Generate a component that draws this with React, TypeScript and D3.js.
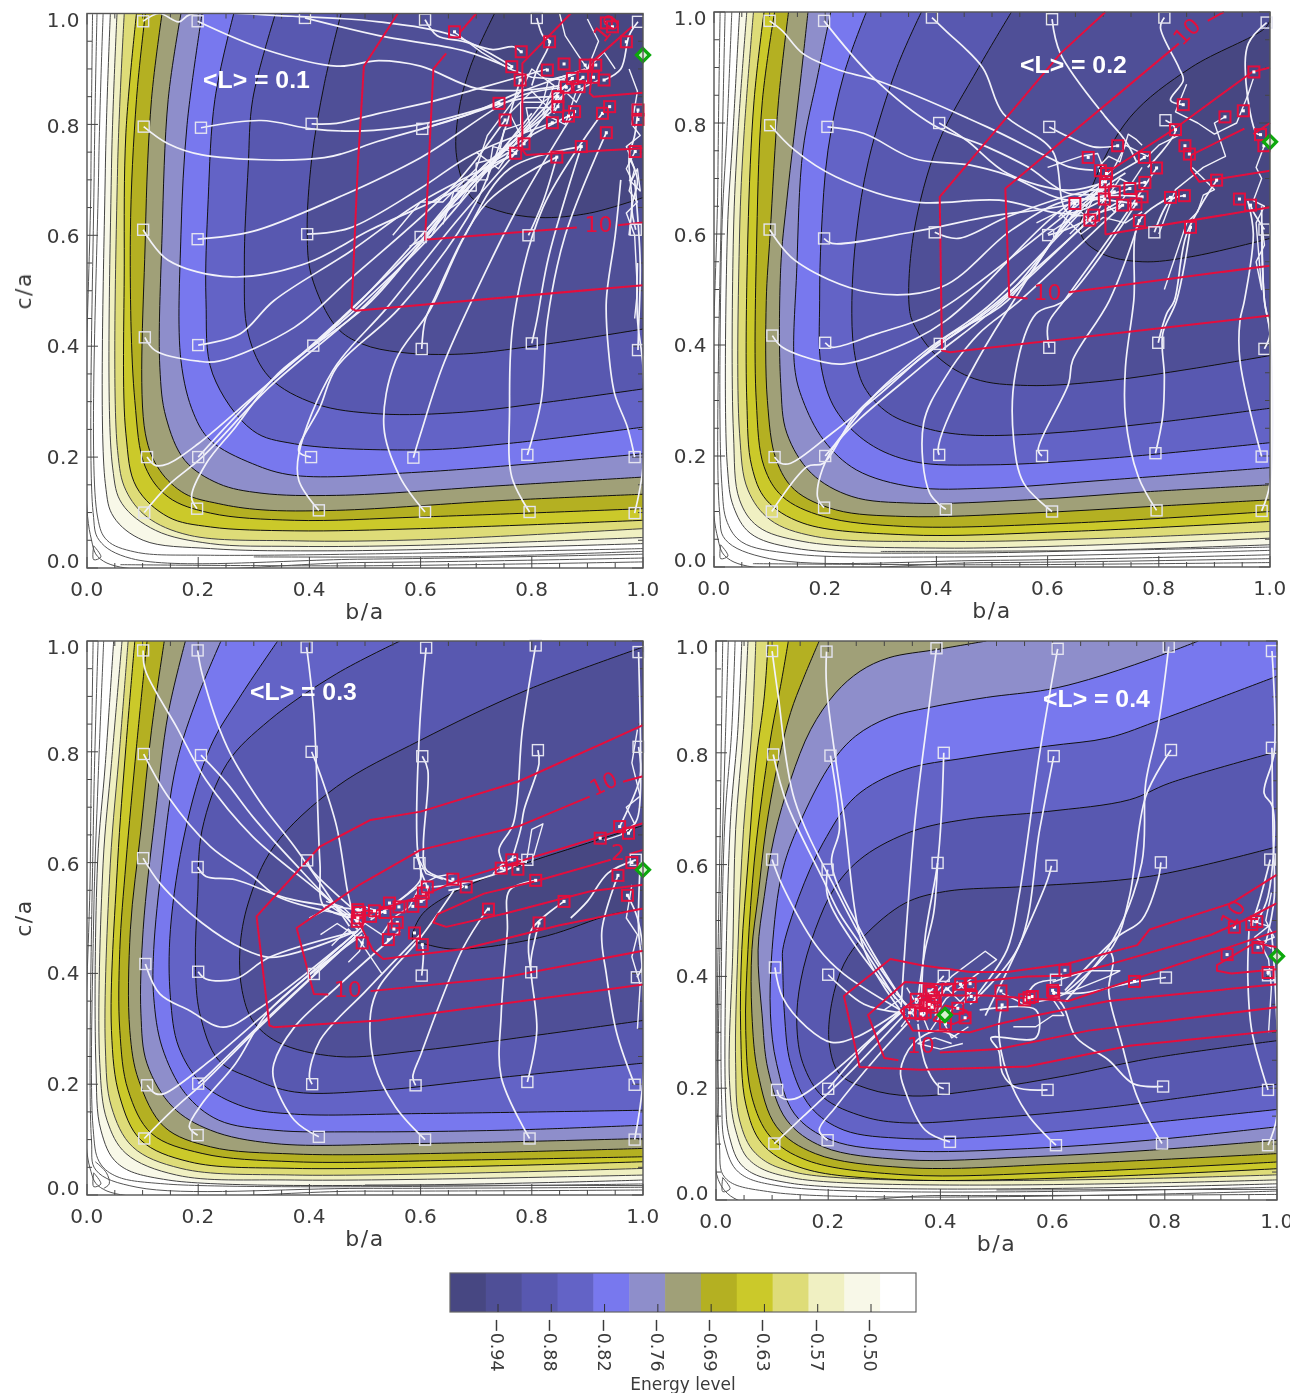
import React from "react";
import * as d3 from "d3";

type Flat = number[];

const bandColors = ["#474782", "#505097", "#5858b0", "#6464c6", "#7878ee", "#8e8ecb", "#a0a078", "#b4b022", "#cbc92a", "#dedc78", "#f0f0c2", "#f8f8e8", "#ffffff"];
const barTicks = ["−0.94", "−0.88", "−0.82", "−0.76", "−0.69", "−0.63", "−0.57", "−0.50"];
const axisTicks = [0, 0.2, 0.4, 0.6, 0.8, 1.0];
const minorTicks = d3.range(0, 21).map((i) => i * 0.05);
const yLabelShift = [-7, 0, 0, 1, 2, 6];

// ---- iso-energy lines, darkest band first; index is the band index (null = absent)
const isoP1: (Flat | null)[] = [
  [.733,1,.69,.905,.668,.82,.665,.74,.69,.67,.737,.645,.813,.632,.904,.64,1,.668],
  [.457,1,.427,.874,.404,.736,.396,.604,.404,.526,.449,.434,.495,.404,.563,.389,.677,.386,.828,.404,1,.431],
  [.339,1,.298,.845,.29,.725,.283,.545,.29,.422,.328,.344,.411,.296,.525,.278,.677,.281,.828,.299,1,.323],
  [.264,1,.23,.845,.218,.665,.214,.484,.226,.35,.298,.248,.373,.224,.6,.213,.752,.224,1,.254],
  [.207,1,.18,.8,.169,.602,.169,.374,.192,.278,.222,.23,.298,.188,.373,.167,.6,.173,1,.206],
  [.169,1,.146,.845,.135,.6,.131,.362,.142,.272,.176,.194,.237,.152,.313,.135,.449,.131,.752,.149,1,.164],
  [.135,1,.116,.845,.105,.6,.105,.242,.131,.176,.176,.134,.237,.116,.313,.105,.449,.104,.752,.122,1,.133],
  [.105,1,.089,.845,.078,.6,.086,.302,.105,.182,.146,.128,.222,.099,.373,.086,.6,.092,1,.107],
  [.089,1,.07,.785,.067,.545,.07,.242,.089,.146,.146,.092,.222,.074,.373,.067,.6,.071,1,.086],
  [.067,1,.055,.72,.055,.212,.07,.14,.108,.092,.184,.059,.373,.049,.6,.051,1,.071],
  [.054,1,.044,.72,.046,.182,.063,.116,.123,.068,.222,.044,.373,.039,.6,.041,1,.055],
  [.042,1,.033,.72,.033,.152,.048,.092,.101,.05,.222,.035,.449,.031,1,.044],
];
const isoP2: (Flat | null)[] = [
  [1,.985,.99,.97,.858,.9,.748,.81,.682,.69,.66,.6,.697,.565,.77,.55,.858,.559,1,.592],
  [.535,1,.476,.9,.403,.763,.359,.6,.351,.47,.359,.438,.403,.378,.469,.339,.564,.327,.711,.336,.858,.357,1,.381],
  [.373,1,.329,.9,.278,.733,.256,.6,.248,.48,.252,.39,.27,.325,.314,.277,.381,.25,.454,.238,.601,.241,.785,.259,1,.286],
  [.274,1,.234,.889,.205,.751,.193,.6,.19,.48,.193,.36,.219,.283,.278,.223,.359,.19,.491,.184,.711,.196,1,.224],
  [.21,1,.186,.883,.16,.751,.149,.54,.145,.36,.16,.3,.197,.229,.256,.175,.359,.144,.491,.142,.711,.157,1,.179],
  [.169,1,.157,.889,.131,.661,.12,.54,.12,.33,.131,.241,.175,.169,.248,.127,.359,.115,.564,.121,.785,.136,1,.148],
  [.134,1,.116,.84,.101,.6,.094,.48,.096,.3,.112,.193,.145,.139,.219,.103,.344,.091,.564,.097,.785,.109,1,.121],
  [.109,1,.087,.84,.077,.6,.076,.3,.09,.181,.123,.127,.197,.091,.344,.073,.638,.079,1,.1],
  [.09,1,.072,.84,.061,.6,.059,.3,.068,.181,.094,.121,.16,.079,.344,.058,.638,.064,1,.082],
  [.071,1,.054,.78,.046,.6,.046,.241,.061,.139,.101,.085,.182,.055,.417,.046,.711,.052,1,.064],
  [.059,1,.043,.78,.035,.6,.035,.241,.046,.121,.079,.073,.16,.046,.417,.034,1,.052],
  [.046,1,.034,.78,.024,.6,.024,.181,.035,.109,.065,.061,.145,.034,.417,.025,1,.04],
];
const isoP3: (Flat | null)[] = [
  [1,.667,.9,.635,.75,.585,.646,.539,.6,.503,.586,.46,.608,.453,.654,.444,.714,.447,.828,.468,.942,.506,1,.517],
  [1,.989,.79,.911,.6,.821,.449,.737,.336,.629,.29,.527,.275,.443,.279,.369,.298,.315,.343,.276,.449,.25,.6,.261,.828,.291,1,.315],
  [.563,1,.449,.941,.328,.857,.252,.779,.207,.659,.199,.539,.195,.417,.203,.327,.237,.243,.298,.21,.373,.186,.525,.189,.752,.213,1,.238],
  [.343,1,.275,.899,.222,.809,.177,.659,.15,.479,.15,.357,.165,.267,.207,.201,.283,.159,.373,.146,.6,.147,1,.153],
  [.241,1,.199,.899,.161,.779,.135,.599,.12,.443,.12,.357,.135,.267,.177,.183,.237,.135,.336,.117,.487,.114,.752,.117,1,.126],
  [.177,1,.146,.869,.123,.689,.101,.479,.097,.327,.108,.237,.154,.159,.222,.117,.336,.093,.6,.093,1,.102],
  [.139,1,.116,.839,.097,.659,.078,.479,.077,.297,.093,.207,.139,.123,.222,.087,.373,.074,.677,.076,1,.084],
  [.108,1,.089,.809,.07,.599,.059,.443,.059,.297,.074,.189,.116,.111,.207,.075,.373,.06,.677,.063,1,.069],
  [.086,1,.07,.809,.055,.599,.044,.297,.059,.177,.097,.099,.184,.06,.373,.048,1,.06],
  [.074,1,.059,.809,.042,.599,.033,.267,.044,.159,.082,.087,.169,.048,.373,.036,1,.048],
  [.063,1,.044,.779,.029,.599,.023,.237,.036,.135,.07,.075,.161,.036,.373,.027,1,.036],
  [.048,1,.033,.779,.019,.6,.016,.237,.025,.117,.055,.057,.146,.027,1,.027],
];
const isoP4: (Flat | null)[] = [
  null,
  [1,.632,.773,.579,.555,.561,.409,.552,.337,.531,.264,.472,.228,.422,.206,.351,.202,.279,.22,.226,.271,.199,.351,.186,.482,.199,.627,.223,.773,.253,1,.285],
  [1,.802,.809,.746,.737,.716,.591,.695,.446,.681,.351,.66,.264,.615,.213,.561,.177,.484,.151,.392,.144,.315,.155,.244,.191,.184,.264,.149,.337,.138,.482,.146,.7,.166,1,.207],
  [1,.937,.795,.86,.7,.827,.591,.812,.446,.791,.337,.77,.249,.722,.191,.639,.148,.543,.119,.448,.119,.422,.122,.333,.133,.244,.169,.166,.228,.125,.337,.11,.482,.113,.7,.131,1,.162],
  [.86,1,.773,.967,.664,.931,.591,.913,.482,.899,.38,.881,.308,.863,.249,.83,.206,.782,.155,.687,.119,.591,.1,.448,.097,.333,.108,.244,.14,.154,.206,.107,.337,.088,.555,.092,.773,.107,1,.131],
  [.482,1,.395,.985,.308,.97,.257,.946,.213,.907,.169,.842,.133,.752,.104,.651,.086,.543,.075,.447,.082,.333,.093,.232,.126,.143,.191,.095,.337,.072,.555,.077,.773,.089,1,.107],
  [.184,1,.155,.931,.133,.872,.108,.77,.089,.663,.075,.543,.064,.448,.064,.333,.075,.226,.108,.131,.177,.083,.337,.058,.627,.065,1,.083],
  [.129,1,.115,.919,.1,.842,.082,.722,.068,.603,.057,.448,.053,.303,.064,.184,.097,.113,.162,.071,.337,.045,.627,.05,1,.068],
  [.093,1,.086,.9,.071,.782,.057,.603,.046,.448,.044,.303,.053,.172,.082,.101,.148,.059,.337,.036,1,.056],
  [.071,1,.064,.842,.049,.663,.039,.448,.035,.244,.042,.143,.071,.083,.148,.048,1,.045],
  [.057,1,.049,.842,.035,.663,.03,.448,.024,.214,.035,.125,.06,.071,.14,.039,1,.036],
  [.046,1,.039,.842,.025,.663,.017,.184,.024,.113,.049,.059,.133,.03,1,.029],
];
// thin lines inside the white outer band
const faintP1: Flat[] = [[.029,1,.021,.72,.019,.092,.036,.05,.086,.029,.222,.023,1,.035],[.018,1,.013,.72,.011,.1,.022,.05,.08,.017,.5,.016,1,.025],[.01,1,.007,.7,.006,.06,.03,.012,.5,.01,1,.018],[.06,.006,.5,.004,1,.011],[.3,.02,.7,.021,1,.03],[.012,.04,.025,.02,.012,.015,.012,.04]];
const faintP2: Flat[] = [[.032,1,.023,.78,.014,.6,.014,.15,.024,.08,.05,.045,.14,.024,.417,.018,1,.03],[.02,1,.014,.7,.01,.1,.02,.05,.1,.015,.5,.012,1,.022],[.011,1,.007,.7,.005,.06,.03,.012,.5,.008,1,.015],[.07,.006,.5,.004,1,.008],[.3,.028,.7,.03,1,.036],[.012,.04,.025,.02,.012,.015,.012,.04]];
const faintP3: Flat[] = [[.03,1,.02,.75,.012,.5,.011,.12,.022,.06,.05,.035,.14,.02,1,.02],[.02,1,.012,.7,.008,.1,.016,.045,.09,.014,.5,.012,1,.014],[.011,1,.006,.6,.005,.05,.03,.01,.5,.007,1,.009],[.5,.018,1,.017],[.012,.04,.025,.02,.012,.015,.012,.04],[.015,.06,.035,.04,.04,.02,.03,.012]];
const faintP4: Flat[] = [[.034,1,.028,.84,.015,.66,.01,.18,.016,.1,.04,.05,.12,.024,1,.023],[.022,1,.016,.8,.008,.5,.006,.1,.016,.04,.1,.014,1,.016],[.012,1,.008,.7,.004,.2,.02,.012,.4,.008,1,.01],[.5,.018,1,.019],[.012,.04,.025,.02,.012,.015,.012,.04]];

// ---- relaxation tracks (first point is the start square)
const tracksP1: Flat[] = [
  [.101,.986,.13,1,.165,.985,.185,.998,.37,.995,.525,.985,.66,.96,.764,.905],
  [.199,.986,.32,.935,.449,.905,.525,.915,.6,.905,.7,.865,.79,.862,.85,.87],
  [.392,.992,.525,.96,.677,.933,.764,.9],
  [.608,.989,.63,.96,.675,.95,.73,.935,.767,.94,.781,.93],
  [.809,.992,.82,.96,.832,.95,.81,.9,.8,.87],
  [.991,.985,.975,.96,.96,.9,.93,.88],
  [.102,.796,.146,.765,.207,.745,.427,.74,.525,.77,.677,.815,.783,.86,.896,.9],
  [.205,.794,.313,.807,.404,.792,.487,.788,.6,.8,.741,.838],
  [.404,.801,.449,.802,.525,.82,.623,.842,.705,.865,.828,.9],
  [.603,.792,.677,.815,.775,.845,.847,.85],
  [.991,.826,.985,.78,.975,.74,.98,.66,.975,.6],
  [.101,.61,.146,.555,.26,.525,.396,.55,.51,.61,.661,.68,.752,.737,.771,.748],
  [.199,.593,.298,.607,.449,.667,.6,.74,.775,.85,.862,.867],
  [.396,.602,.472,.613,.6,.685,.692,.745,.837,.803],
  [.6,.597,.653,.66,.714,.725,.847,.832],
  [.794,.6,.82,.66,.845,.741],
  [.987,.61,.98,.65,.99,.7,.975,.74],
  [.108,.2,.123,.185,.146,.188,.2,.224,.298,.308,.472,.464,.6,.59,.7,.71,.786,.765],
  [.2,.2,.313,.32,.487,.47,.62,.6,.74,.74,.873,.883],
  [.103,.1,.146,.149,.207,.2,.328,.326,.502,.476,.63,.62,.72,.73,.866,.815],
  [.198,.107,.188,.128,.214,.188,.267,.254,.343,.35,.51,.48,.66,.66,.8,.8,.892,.885],
  [.403,.2,.381,.21,.419,.29,.449,.362,.563,.47,.7,.66,.779,.88],
  [.417,.104,.381,.158,.381,.206,.442,.356,.54,.47,.66,.62,.78,.76,.847,.85],
  [.587,.199,.6,.242,.639,.362,.692,.482,.78,.66,.877,.823],
  [.608,.101,.563,.164,.534,.254,.555,.374,.616,.464,.68,.6,.76,.72,.889,.76],
  [.792,.204,.817,.302,.828,.446,.86,.6,.934,.785],
  [.796,.101,.764,.164,.76,.284,.767,.446,.82,.65,.927,.82],
  [.985,.2,.972,.254,.949,.314,.938,.392,.934,.482,.95,.6,.96,.7],
  [.985,.099,1,.182,1,.362,.99,.45,.99,.55],
  [.407,.401,.5,.49,.62,.62,.7,.7,.8,.82],
  [.2,.402,.275,.422,.336,.482,.472,.57,.6,.66,.771,.748],
  [.104,.416,.123,.392,.2,.373,.237,.373,.373,.434,.472,.52,.66,.69,.752,.808],
  [.602,.395,.608,.446,.623,.482,.72,.66,.845,.741],
  [.8,.405,.809,.446,.83,.56,.889,.76],
  [.991,.393,.992,.43,.995,.55,.985,.7],
];
const tracksP2: Flat[] = [
  [.1,.984,.123,.966,.16,.925,.226,.895,.292,.877,.491,.793,.594,.742,.638,.721,.682,.715],
  [.198,.984,.285,.883,.395,.796,.491,.757,.564,.721,.638,.673,.72,.676],
  [.392,.99,.417,.966,.483,.9,.52,.817,.608,.751,.638,.637,.735,.652],
  [.608,.987,.623,.925,.704,.811,.73,.781,.745,.76,.76,.73],
  [.81,.99,.803,.972,.836,.9,.844,.877,.821,.841,.844,.833],
  [.994,.981,.961,.943,.957,.871,.976,.781,.983,.779],
  [.101,.796,.145,.751,.219,.703,.359,.658,.513,.661,.638,.637,.702,.663],
  [.204,.793,.27,.781,.359,.736,.461,.724,.528,.706,.638,.661,.748,.682],
  [.405,.8,.454,.769,.528,.709,.638,.679,.704,.694],
  [.603,.793,.638,.775,.682,.757,.726,.759],
  [.812,.805,.83,.788,.78,.72],
  [.1,.608,.145,.553,.278,.495,.41,.505,.535,.607,.638,.661,.76,.654],
  [.198,.592,.212,.583,.359,.604,.491,.631,.645,.655,.72,.69],
  [.397,.603,.439,.592,.528,.631,.653,.673,.775,.693],
  [.601,.598,.638,.61,.733,.661],
  [.792,.603,.821,.661,.846,.669],
  [.99,.608,.97,.64,.965,.652],
  [.109,.198,.12,.187,.138,.187,.212,.241,.3,.313,.417,.414,.528,.48,.649,.655],
  [.2,.2,.219,.223,.292,.313,.381,.39,.491,.468,.66,.64],
  [.104,.1,.168,.181,.197,.187,.256,.277,.359,.366,.5,.47,.676,.625],
  [.198,.107,.186,.127,.212,.211,.373,.361,.51,.47,.683,.634],
  [.405,.202,.403,.211,.417,.259,.52,.45,.68,.66,.77,.667],
  [.417,.104,.388,.133,.377,.259,.417,.343,.476,.42,.55,.48,.7,.62,.735,.652],
  [.59,.2,.583,.211,.638,.331,.645,.372,.711,.48,.765,.624],
  [.608,.1,.557,.151,.539,.229,.542,.349,.579,.456,.63,.48,.759,.654],
  [.794,.205,.807,.271,.81,.343,.807,.42,.832,.48,.857,.612],
  [.796,.102,.763,.163,.74,.271,.74,.36,.755,.48,.765,.624,.821,.666],
  [.985,.199,.946,.372,.946,.444,.954,.48,.97,.6,.96,.66],
  [.985,.101,1,.151,1,.42,.99,.48,.985,.6],
  [.406,.402,.528,.49,.66,.65,.74,.71],
  [.2,.404,.212,.396,.292,.42,.381,.45,.432,.48,.7,.69],
  [.105,.417,.123,.396,.197,.369,.234,.366,.314,.39,.417,.444,.62,.64,.774,.738],
  [.603,.395,.601,.438,.63,.48,.73,.62,.796,.719],
  [.799,.404,.814,.456,.828,.48,.85,.6,.904,.697],
  [.99,.393,1,.42,.99,.48,.985,.65],
];
const tracksP3: Flat[] = [
  [.101,.983,.105,.947,.161,.845,.214,.749,.298,.647,.434,.533,.487,.479],
  [.199,.983,.207,.941,.252,.809,.313,.707,.373,.629,.472,.485],
  [.395,.989,.408,.869,.419,.599,.426,.521,.48,.5],
  [.61,.988,.598,.839,.594,.629,.6,.587,.615,.54,.6,.53],
  [.807,.992,.783,.839,.767,.671,.741,.623,.752,.587,.745,.59],
  [.992,.98,.995,.719,.99,.68,.974,.653],
  [.102,.796,.146,.719,.222,.629,.298,.575,.343,.539,.449,.509,.5,.503],
  [.205,.794,.252,.743,.298,.683,.373,.599,.449,.521,.495,.49],
  [.404,.8,.419,.761,.449,.665,.468,.551,.475,.52],
  [.603,.792,.613,.767,.605,.629,.61,.587,.677,.557,.65,.55],
  [.811,.803,.813,.779,.786,.695,.78,.66,.764,.605],
  [.992,.809,.995,.755,.964,.677,.958,.665],
  [.101,.608,.131,.563,.207,.491,.283,.443,.328,.429,.389,.441,.487,.477],
  [.199,.592,.214,.575,.267,.569,.358,.536,.487,.515,.536,.51],
  [.396,.604,.404,.587,.48,.515],
  [.598,.599,.6,.57,.578,.545,.51,.497],
  [.792,.605,.75,.585,.677,.563,.62,.556],
  [.987,.605,.937,.581,.9,.53,.87,.5],
  [.108,.198,.123,.183,.139,.183,.222,.243,.313,.321,.487,.477],
  [.2,.201,.214,.213,.313,.309,.495,.477],
  [.103,.102,.154,.153,.214,.207,.298,.291,.487,.47],
  [.199,.108,.184,.123,.207,.165,.267,.237,.328,.333,.495,.47],
  [.405,.2,.4,.213,.419,.279,.502,.369,.6,.471],
  [.417,.105,.373,.135,.336,.207,.336,.237,.373,.303,.449,.375,.563,.477],
  [.591,.198,.586,.213,.601,.255,.639,.357,.677,.447,.72,.516],
  [.608,.1,.555,.159,.517,.237,.51,.327,.525,.375,.6,.465,.66,.55],
  [.792,.204,.809,.297,.798,.417,.805,.459,.813,.491],
  [.796,.102,.745,.213,.745,.327,.756,.477,.76,.55,.807,.568],
  [.985,.199,.953,.291,.934,.399,.926,.477,.955,.577],
  [.985,.1,1,.207,.998,.417,.992,.477,.995,.6],
  [.408,.399,.487,.47],
  [.2,.403,.214,.39,.267,.39,.328,.429,.48,.475],
  [.105,.417,.131,.363,.184,.333,.245,.303,.313,.339,.48,.47],
  [.602,.396,.605,.435,.603,.452],
  [.799,.402,.794,.447,.8,.48,.858,.53],
  [.989,.393,1,.417,.99,.5,.972,.541],
];
const tracksP4: Flat[] = [
  [.1,.982,.111,.901,.14,.716,.22,.543,.271,.448,.337,.351],
  [.197,.981,.197,.919,.228,.687,.264,.448,.329,.339],
  [.393,.987,.38,.884,.355,.681,.337,.454,.33,.345],
  [.609,.986,.577,.8,.54,.543,.519,.448,.46,.36],
  [.807,.99,.788,.848,.766,.746,.759,.603,.708,.466,.622,.355],
  [.991,.982,.995,.8,.977,.728,.992,.704,.984,.543,.965,.5],
  [.102,.797,.126,.71,.191,.573,.22,.513,.264,.448,.32,.36],
  [.204,.795,.22,.663,.206,.603,.257,.483,.337,.35],
  [.406,.8,.402,.693,.395,.603,.373,.472,.366,.36],
  [.602,.794,.577,.663,.54,.454,.453,.35],
  [.811,.805,.766,.722,.737,.543,.708,.455,.622,.37],
  [.991,.809,.993,.65,.995,.54,.98,.46],
  [.1,.609,.119,.561,.184,.448,.228,.404,.337,.335],
  [.199,.591,.199,.543,.249,.454,.33,.35],
  [.395,.603,.388,.513,.373,.448,.36,.36],
  [.598,.598,.591,.573,.54,.454,.48,.33],
  [.793,.604,.788,.573,.759,.501,.715,.47,.622,.375],
  [.988,.609,.97,.54,.955,.493],
  [.109,.197,.115,.184,.14,.181,.191,.214,.337,.345],
  [.2,.199,.264,.273,.33,.335],
  [.104,.101,.155,.149,.242,.232,.337,.333],
  [.199,.107,.184,.125,.213,.166,.286,.255,.345,.32],
  [.406,.199,.395,.205,.373,.244,.36,.315],
  [.417,.104,.373,.125,.337,.196,.329,.232,.351,.279,.395,.303,.43,.29],
  [.591,.197,.533,.202,.511,.226,.504,.267,.49,.29,.57,.29,.57,.34,.47,.34],
  [.606,.098,.555,.154,.519,.226,.504,.303,.51,.349],
  [.797,.203,.744,.208,.7,.25,.642,.291,.62,.345,.6,.37],
  [.795,.101,.751,.184,.722,.285,.7,.374,.708,.43,.7,.45],
  [.984,.197,.955,.303,.948,.398,.95,.481],
  [.984,.098,1,.15,.996,.4,.99,.48],
  [.406,.401,.38,.37,.36,.34],
  [.2,.403,.264,.35,.33,.335],
  [.105,.416,.119,.362,.162,.309,.206,.282,.249,.291,.33,.34],
  [.606,.394,.569,.386,.55,.358],
  [.802,.398,.759,.392,.729,.386,.65,.37,.602,.371],
  [.984,.402,.984,.407],
];
// ---- tangled final stretches, no start square
const tangleP1: Flat[] = [
  [.58,.58,.62,.6,.64,.64,.67,.66,.69,.69,.72,.72,.74,.74,.76,.77,.79,.8,.82,.84,.86,.87],
  [.64,.62,.66,.68,.7,.68,.7,.73,.74,.74,.75,.79,.78,.8,.78,.84,.82,.84,.83,.88,.87,.89],
  [.62,.66,.68,.7,.72,.7,.73,.76,.77,.75,.8,.78,.79,.83,.84,.83,.85,.88,.9,.9],
  [.7,.75,.74,.72,.78,.78,.76,.82,.8,.86,.84,.82,.86,.86,.88,.84,.9,.88],
  [.78,.86,.8,.9,.84,.87,.82,.82,.86,.8,.88,.86,.92,.88],
  [.975,.9,.99,.86,.98,.8,.995,.78,.97,.76,.985,.72,.975,.68,.99,.66,.97,.64,.985,.6,.99,.5,.985,.45],
  [.985,.75,.97,.72,.98,.7,.99,.72,.995,.68,.975,.7],
  [.9,.99,.92,.95,.9,.9,.93,.93,.95,.9],
  [.55,.6,.6,.66,.64,.66,.7,.72,.72,.78,.78,.86],
  [.66,.967,.71,.93,.76,.9,.8,.885,.86,.88],
  [.85,1,.86,.96,.88,.93,.9,.9],
];
const tangleP2: Flat[] = [
  [.62,.63,.65,.66,.67,.65,.69,.68,.71,.67,.73,.7,.75,.69,.77,.72],
  [.6,.6,.63,.62,.66,.64,.68,.62,.7,.66,.72,.64,.74,.67],
  [.64,.6,.66,.62,.68,.66,.7,.7,.72,.72,.74,.76,.78,.74,.8,.76,.84,.78],
  [.69,.72,.71,.74,.73,.73,.745,.78,.76,.77,.77,.76],
  [.6,.72,.63,.73,.66,.74,.69,.745,.7,.72],
  [.58,.62,.62,.64,.66,.6,.7,.63,.74,.62,.77,.64],
  [.985,.62,.99,.58,.975,.55,.985,.5,.975,.62,.99,.65,.97,.66,.985,.7,.975,.72,.99,.76],
  [.86,.72,.9,.68,.88,.67,.87,.64,.85,.62,.83,.56,.81,.5],
  [.85,.87,.83,.82,.87,.8,.9,.78,.94,.8,.96,.85,.97,.88],
  [.8,.6,.83,.68,.88,.72,.92,.74,.9,.8,.919,.811],
];
const tangleP3: Flat[] = [
  [.4,.5,.44,.52,.47,.5,.5,.52,.53,.51,.56,.53,.6,.56,.63,.575,.66,.58],
  [.42,.47,.45,.49,.48,.47,.5,.49,.53,.47,.55,.5,.58,.52],
  [.44,.45,.47,.48,.49,.46,.51,.43,.53,.4],
  [.43,.53,.46,.52,.48,.5,.5,.47,.49,.44,.47,.42],
  [.58,.52,.6,.56,.6,.59,.59,.62,.61,.58,.64,.57],
  [.73,.58,.75,.6,.77,.61,.79,.6,.8,.66,.82,.67,.8,.6],
  [.99,.84,.98,.78,.995,.72,.97,.7,.985,.67,.96,.65,.93,.64],
  [.98,.56,.97,.5,.99,.47,.98,.43,.995,.38,.99,.3],
];
const tangleP4: Flat[] = [
  [.3,.34,.33,.36,.36,.32,.38,.36,.4,.32,.43,.35],
  [.32,.37,.35,.34,.37,.37,.39,.34,.41,.38,.44,.35,.46,.38],
  [.33,.31,.36,.35,.38,.3,.4,.33,.42,.29,.45,.31],
  [.34,.38,.37,.33,.4,.37,.43,.39,.45,.37,.42,.34],
  [.42,.28,.39,.29,.36,.28,.4,.27,.44,.28],
  [.51,.37,.55,.35,.6,.36,.65,.38,.7,.4,.72,.41,.66,.41,.6,.39],
  [.53,.31,.57,.31,.6,.33,.62,.33,.6,.36],
  [.99,.55,.98,.5,.995,.47,.97,.46,.985,.43,.99,.38,.985,.3],
  [.97,.52,.95,.5,.985,.49,.96,.47,.99,.45],
  [.37,.35,.42,.4,.48,.445,.5,.43,.46,.4,.41,.36,.39,.33],
];

// ---- relaxed end points
const endsP1: Flat = [.832,.949,.781,.931,.764,.904,.779,.88,.828,.898,.858,.909,.896,.907,.915,.907,.873,.883,.892,.885,.911,.885,.93,.88,.862,.867,.885,.868,.847,.85,.741,.838,.847,.832,.877,.823,.866,.815,.752,.808,.837,.803,.927,.82,.94,.832,.991,.826,.991,.809,.934,.785,.786,.765,.771,.748,.889,.76,.845,.741,.986,.751,.934,.983,.945,.976,.97,.949,.661,.967];
const endsP2: Flat = [.844,.833,.971,.892,.919,.811,.952,.822,.983,.779,.989,.759,.83,.788,.847,.759,.855,.744,.726,.759,.673,.738,.774,.738,.796,.719,.695,.714,.706,.709,.704,.694,.775,.693,.748,.682,.72,.676,.77,.667,.702,.663,.821,.666,.846,.669,.649,.655,.735,.652,.759,.654,.683,.634,.676,.625,.765,.624,.857,.612,.904,.697,.945,.663,.965,.652];
const endsP3: Flat = [.487,.515,.486,.494,.51,.503,.517,.513,.536,.51,.544,.527,.561,.52,.558,.492,.552,.48,.542,.461,.495,.455,.589,.473,.603,.452,.586,.521,.601,.53,.605,.545,.612,.556,.658,.57,.682,.556,.722,.516,.745,.59,.764,.605,.775,.588,.807,.568,.858,.53,.813,.491,.923,.644,.958,.665,.974,.653,.98,.6,.955,.577,.972,.541,.49,.51,.487,.5];
const endsP4: Flat = [.357,.359,.355,.335,.373,.336,.384,.371,.388,.362,.373,.348,.391,.356,.413,.377,.436,.386,.453,.387,.455,.364,.508,.374,.51,.349,.55,.358,.564,.364,.602,.371,.622,.411,.746,.391,.431,.343,.444,.326,.409,.315,.911,.439,.966,.452,.984,.407,.924,.488,.955,.493,.964,.498,.366,.333,.38,.374,.345,.335,.38,.35,.6,.375,.558,.362,.385,.345];

// ---- red iso-lines (straight segments)
const redP1: Flat[] = [
  [.559,1,.498,.905,.487,.724,.476,.468,.483,.464,1,.51],
  [.7,1,.67,.965],[.646,.928,.623,.9,.608,.592,.881,.614],[.955,.618,1,.623],
  [.87,1,.783,.91,.783,.754,.79,.745,1,.757],
  [.98,.976,.911,.915,.904,.856,.911,.85,1,.857],
];
const redP2: Flat[] = [
  [.704,1,.623,.925,.406,.667,.41,.39,.425,.387,.711,.42,1,.453],
  [.836,.943,.524,.682,.531,.487,.564,.484],[.638,.495,1,.543],[.888,.984,.917,1],
  [.704,.599,.704,.709,.829,.79,.968,.892,1,.9],[.704,.599,1,.648],
  [.954,.79,.858,.742,.858,.715,.873,.694,1,.714],[.97,.78,1,.8],
];
const redP3: Flat[] = [
  [1,.848,.775,.746,.6,.692,.51,.677,.419,.629,.305,.503,.328,.306,.336,.303,.525,.315,1,.38],
  [.904,.719,.775,.665,.6,.623,.49,.56,.377,.482,.408,.363,.434,.362],[.51,.368,.752,.393,1,.441],[.964,.746,1,.756],
  [1,.671,.866,.629,.677,.572,.6,.539,.525,.515,.487,.497,.514,.442,.533,.426,.677,.444,.85,.487,1,.517],
  [.942,.605,.805,.566,.714,.544,.631,.507,.623,.492,.646,.484,.752,.508,.904,.548,1,.56],[.975,.615,1,.623],
];
const redP4: Flat[] = [
  [1,.582,.919,.531,.773,.484,.751,.456,.628,.423,.519,.408,.453,.408,.366,.42,.311,.431,.228,.365,.256,.238,.366,.233,.555,.239,.737,.276,1,.303],
  [1,.531,.94,.5,.882,.474,.7,.421,.62,.401,.555,.4,.409,.385,.337,.39,.271,.331,.3,.254,.325,.25],[.399,.264,.504,.27,.664,.303,1,.345],
  [1,.481,.751,.397,.628,.356,.482,.366,.366,.366,.329,.339,.351,.303,.453,.3,.504,.315,.569,.33,.7,.356,1,.386],
  [.387,.321,.409,.348,.446,.339,.453,.327,.424,.315,.387,.321],
  [1,.452,.96,.46,.893,.42,.893,.41,.919,.405,1,.413],
];
const redLabelsP1 = [{ t: "10", b: .92, c: .606, r: 0 }, { t: "10", b: .945, c: .965, r: -50 }];
const redLabelsP2 = [{ t: "10", b: .6, c: .481, r: 0 }, { t: "10", b: .86, c: .955, r: -45 }];
const redLabelsP3 = [{ t: "10", b: .469, c: .357, r: 0 }, { t: "10", b: .935, c: .73, r: -25 }, { t: "2", b: .955, c: .605, r: 0 }];
const redLabelsP4 = [{ t: "10", b: .365, c: .263, r: 0 }, { t: "10", b: .933, c: .505, r: -60 }];

const greensP1: Flat = [1, .925];
const greensP2: Flat = [1, .766];
const greensP3: Flat = [1, .587];
const greensP4: Flat = [1, .436, .408, .331];

const panels = [
  { x0: 87, x1: 643, y0: 568, y1: 13.5, iso: isoP1, faint: faintP1, tracks: tracksP1, tangle: tangleP1, ends: endsP1, red: redP1, redLabels: redLabelsP1, greens: greensP1, title: "<L> = 0.1", tx: 203, ty: 88, yTitle: true },
  { x0: 714, x1: 1270, y0: 567, y1: 12, iso: isoP2, faint: faintP2, tracks: tracksP2, tangle: tangleP2, ends: endsP2, red: redP2, redLabels: redLabelsP2, greens: greensP2, title: "<L> = 0.2", tx: 1020, ty: 73, yTitle: false },
  { x0: 87, x1: 643, y0: 1195, y1: 641, iso: isoP3, faint: faintP3, tracks: tracksP3, tangle: tangleP3, ends: endsP3, red: redP3, redLabels: redLabelsP3, greens: greensP3, title: "<L> = 0.3", tx: 250, ty: 700, yTitle: true },
  { x0: 716, x1: 1277, y0: 1200, y1: 641, iso: isoP4, faint: faintP4, tracks: tracksP4, tangle: tangleP4, ends: endsP4, red: redP4, redLabels: redLabelsP4, greens: greensP4, title: "<L> = 0.4", tx: 1043, ty: 707, yTitle: false },
];

const pairs = (f: Flat): [number, number][] => {
  const out: [number, number][] = [];
  for (let i = 0; i + 1 < f.length; i += 2) out.push([f[i], f[i + 1]]);
  return out;
};

const FONT = "'DejaVu Sans', sans-serif";
const INK = "#3a3a3a";
const RED = "#e4103e";

function Panel({ p, idx }: { p: (typeof panels)[number]; idx: number }) {
  const x = d3.scaleLinear().domain([0, 1]).range([p.x0, p.x1]);
  const y = d3.scaleLinear().domain([0, 1]).range([p.y0, p.y1]);
  const smooth = d3.line<[number, number]>().x((d) => x(d[0])).y((d) => y(d[1])).curve(d3.curveCatmullRom.alpha(0.5));
  const straight = d3.line<[number, number]>().x((d) => x(d[0])).y((d) => y(d[1]));
  const clip = `clip-${idx}`;
  const w = p.x1 - p.x0;
  const h = p.y0 - p.y1;
  const order = p.iso.map((f, i) => ({ f, i })).filter((d) => d.f).reverse();
  return (
    <g>
      <defs>
        <clipPath id={clip}><rect x={p.x0} y={p.y1} width={w} height={h} /></clipPath>
      </defs>
      <g clipPath={`url(#${clip})`}>
        <rect x={p.x0} y={p.y1} width={w} height={h} fill="#fff" />
        {order.map(({ f, i }) => {
          const pts = pairs(f as Flat);
          const corner = pts[0][1] === 1 ? `L${x(1)},${y(1)}` : "";
          return <path key={i} d={`${smooth(pts)}${corner}Z`} fill={bandColors[i]} />;
        })}
        {order.map(({ f, i }) => (
          <path key={i} d={smooth(pairs(f as Flat)) as string} fill="none" stroke={i > 8 ? "#444" : "#111"} strokeWidth={1} />
        ))}
        {p.faint.map((f, i) => (
          <path key={i} d={smooth(pairs(f)) as string} fill="none" stroke="#555" strokeWidth={1} />
        ))}
      </g>
      {minorTicks.map((t, i) => {
        const major = i % 4 === 0;
        const len = major ? 11 : 5;
        return (
          <g key={i} stroke="#444" strokeWidth={1}>
            <line x1={x(t)} x2={x(t)} y1={p.y0} y2={p.y0 - len} />
            <line x1={x(t)} x2={x(t)} y1={p.y1} y2={p.y1 + len} />
            <line x1={p.x0} x2={p.x0 + len} y1={y(t)} y2={y(t)} />
            <line x1={p.x1} x2={p.x1 - len} y1={y(t)} y2={y(t)} />
          </g>
        );
      })}
      <g fill="none" stroke="#f2f2fa" strokeWidth={1.7} strokeLinejoin="round">
        {p.tracks.map((f, i) => <path key={i} d={smooth(pairs(f)) as string} />)}
        {p.tangle.map((f, i) => <path key={i} d={straight(pairs(f)) as string} strokeWidth={1.4} />)}
      </g>
      <g fill="none" stroke={RED} strokeWidth={2} strokeLinejoin="round">
        {p.red.map((f, i) => <path key={i} d={straight(pairs(f)) as string} />)}
      </g>
      <g fill="none" stroke="#e4e4f0" strokeWidth={1.4}>
        {p.tracks.map((f, i) => <rect key={i} x={x(f[0]) - 5.5} y={y(f[1]) - 5.5} width={11} height={11} />)}
      </g>
      <g>
        {pairs(p.ends).map((d, i) => (
          <g key={i}>
            <rect x={x(d[0]) - 5.5} y={y(d[1]) - 5.5} width={11} height={11} fill="none" stroke={RED} strokeWidth={2} />
            <rect x={x(d[0]) - 1.5} y={y(d[1]) - 1.5} width={3} height={3} fill="#fff" />
          </g>
        ))}
      </g>
      {p.redLabels.map((l, i) => (
        <text key={i} transform={`translate(${x(l.b)},${y(l.c)}) rotate(${l.r})`} textAnchor="middle" fontFamily={FONT} fontSize={22} fill={RED}>{l.t}</text>
      ))}
      {pairs(p.greens).map((d, i) => (
        <polygon key={i} points={`${x(d[0])},${y(d[1]) - 6.5} ${x(d[0]) + 6.5},${y(d[1])} ${x(d[0])},${y(d[1]) + 6.5} ${x(d[0]) - 6.5},${y(d[1])}`} fill="#d8f0d0" stroke="#08a808" strokeWidth={3.2} />
      ))}
      <rect x={p.x0} y={p.y1} width={w} height={h} fill="none" stroke="#555" strokeWidth={1.4} />
      <text x={p.tx} y={p.ty} fontFamily="'Liberation Sans', Arial, sans-serif" fontWeight={700} fontSize={24.8} fill="#fff">{p.title}</text>
      <g fontFamily={FONT} fontSize={20} fill={INK}>
        {axisTicks.map((t, i) => (
          <text key={i} x={x(t)} y={p.y0 + 28} textAnchor="middle" letterSpacing={0.5}>{t.toFixed(1)}</text>
        ))}
        {axisTicks.map((t, i) => (
          <text key={i} x={p.x0 - 7} y={y(t) + 7 + yLabelShift[i]} textAnchor="end" letterSpacing={0.5}>{t.toFixed(1)}</text>
        ))}
        <text x={(p.x0 + p.x1) / 2} y={p.y0 + 51} textAnchor="middle" fontSize={22} letterSpacing={1.5}>b/a</text>
        {p.yTitle && (
          <text transform={`translate(${p.x0 - 56},${(p.y0 + p.y1) / 2}) rotate(-90)`} textAnchor="middle" fontSize={22} letterSpacing={1.5}>c/a</text>
        )}
      </g>
    </g>
  );
}

function ColorBar() {
  const bx = d3.scaleBand<number>().domain(d3.range(bandColors.length)).range([450, 916]);
  const tx = d3.scalePoint<string>().domain(barTicks).range([498, 871]);
  return (
    <g>
      {bandColors.map((c, i) => (
        <rect key={i} x={bx(i)} y={1273} width={bx.bandwidth() + 0.5} height={39} fill={c} />
      ))}
      <rect x={450} y={1273} width={466} height={39} fill="none" stroke="#666" strokeWidth={1.2} />
      {barTicks.map((t) => (
        <g key={t}>
          <line x1={tx(t)} x2={tx(t)} y1={1304} y2={1312} stroke="#333" />
          <text transform={`translate(${(tx(t) as number) - 7},1318) rotate(90)`} fontFamily={FONT} fontSize={17.5} fill={INK}>{t}</text>
        </g>
      ))}
      <text x={683} y={1390} textAnchor="middle" fontFamily={FONT} fontSize={17} fill={INK}>Energy level</text>
    </g>
  );
}

export default function App() {
  return (
    <svg width={1301} height={1393} viewBox="0 0 1301 1393" style={{ position: "absolute", left: 0, top: 0, background: "#fff" }}>
      <defs>
        <filter id="soft" x="0" y="0" width="100%" height="100%"><feGaussianBlur stdDeviation="0.35" /></filter>
      </defs>
      <g filter="url(#soft)">
        {panels.map((p, i) => <Panel key={i} p={p} idx={i} />)}
        <ColorBar />
      </g>
      <rect x={1290} y={1201} width={11} height={60} fill="#fff" />
    </svg>
  );
}
